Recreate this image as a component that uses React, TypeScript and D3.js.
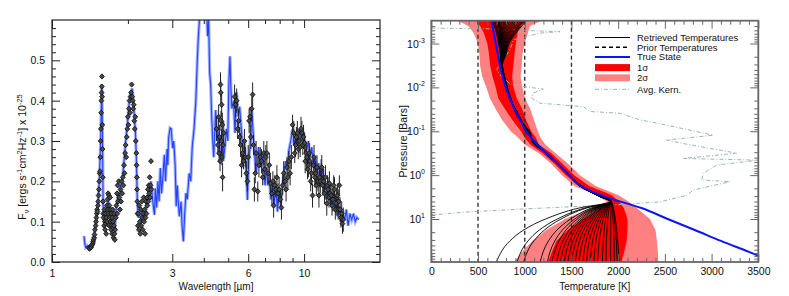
import { useEffect, useRef } from "react";
import * as d3 from "d3";

// ---------- left panel : spectrum ----------
const modelWave = [1.34, 1.35, 1.36, 1.38, 1.40, 1.42, 1.44, 1.46, 1.48, 1.50, 1.52, 1.54, 1.56, 1.575, 1.585, 1.595, 1.61, 1.63, 1.65, 1.67, 1.69, 1.71, 1.73, 1.75, 1.77, 1.79, 1.81, 1.83, 1.85, 1.87, 1.90, 1.93, 1.96, 1.99, 2.02, 2.05, 2.08, 2.11, 2.14, 2.16, 2.18, 2.20, 2.23, 2.26, 2.29, 2.32, 2.35, 2.38, 2.41, 2.44, 2.47,
  2.51, 2.55, 2.57, 2.60, 2.63, 2.66, 2.69, 2.72, 2.76, 2.79, 2.82, 2.86, 2.88, 2.90, 2.94, 2.97, 3.01, 3.04, 3.08, 3.11, 3.14, 3.16, 3.20, 3.25, 3.28, 3.32, 3.36, 3.40, 3.44, 3.50, 3.55, 3.60, 3.66, 3.72, 3.77, 3.80, 3.86, 3.92, 3.98, 4.04, 4.10, 4.14, 4.18, 4.22, 4.26, 4.30, 4.34, 4.38, 4.42, 4.46, 4.50, 4.55, 4.60, 4.67, 4.72, 4.78, 4.85, 4.92, 4.98,
  5.03, 5.08, 5.12, 5.17, 5.25, 5.32, 5.40, 5.48, 5.55, 5.65, 5.72, 5.80, 5.88, 5.96, 6.03, 6.10, 6.20, 6.28, 6.36, 6.45, 6.53, 6.60, 6.70, 6.80, 6.90, 7.00, 7.08, 7.18, 7.28, 7.38, 7.50, 7.60, 7.72, 7.84, 7.97, 8.08, 8.20, 8.33, 8.45, 8.58, 8.70, 8.85, 9.00, 9.14, 9.30, 9.45, 9.60, 9.75, 9.90,
  10.06, 10.22, 10.40, 10.55, 10.72, 10.90, 11.07, 11.25, 11.43, 11.60, 11.80, 12.00, 12.20, 12.40, 12.60, 12.80, 13.00, 13.20, 13.40, 13.60, 13.80, 14.00, 14.25, 14.50, 14.70, 14.95, 15.20, 15.45, 15.70, 15.95, 16.20, 16.45];
const modelFlux = [0.064, 0.045, 0.036, 0.040, 0.034, 0.038, 0.045, 0.058, 0.080, 0.110, 0.140, 0.200, 0.300, 0.440, 0.330, 0.140, 0.100, 0.130, 0.110, 0.160, 0.120, 0.130, 0.090, 0.100, 0.070, 0.120, 0.150, 0.170, 0.160, 0.190, 0.200, 0.250, 0.300, 0.340, 0.390, 0.420, 0.430, 0.380, 0.330, 0.260, 0.150, 0.110, 0.120, 0.100, 0.130, 0.110, 0.130, 0.150, 0.160, 0.180, 0.200,
  0.150, 0.117, 0.183, 0.135, 0.200, 0.150, 0.233, 0.170, 0.220, 0.266, 0.200, 0.280, 0.240, 0.307, 0.332, 0.330, 0.282, 0.300, 0.240, 0.138, 0.190, 0.160, 0.113, 0.150, 0.090, 0.051, 0.120, 0.171, 0.155, 0.220, 0.200, 0.286, 0.330, 0.400, 0.500, 0.550, 0.620, 0.700, 0.660, 0.720, 0.640, 0.560, 0.600, 0.470, 0.440, 0.360, 0.300, 0.260, 0.320, 0.377, 0.300, 0.330, 0.280, 0.260, 0.310, 0.250, 0.285, 0.330, 0.300,
  0.443, 0.510, 0.435, 0.380, 0.400, 0.320, 0.420, 0.360, 0.385, 0.320, 0.270, 0.300, 0.240, 0.154, 0.250, 0.285, 0.377, 0.320, 0.270, 0.220, 0.250, 0.285, 0.235, 0.270, 0.230, 0.190, 0.235, 0.190, 0.210, 0.155, 0.190, 0.140, 0.190, 0.125, 0.180, 0.146, 0.190, 0.220, 0.250, 0.235, 0.277, 0.300, 0.330, 0.290, 0.315, 0.300, 0.330, 0.310, 0.325,
  0.300, 0.278, 0.300, 0.260, 0.285, 0.235, 0.260, 0.220, 0.245, 0.190, 0.235, 0.190, 0.155, 0.200, 0.170, 0.138, 0.170, 0.130, 0.155, 0.113, 0.138, 0.100, 0.120, 0.105, 0.130, 0.090, 0.120, 0.105, 0.120, 0.100, 0.110, 0.105];

const nirWave = [1.40, 1.41, 1.42, 1.43, 1.44, 1.45, 1.455, 1.46, 1.47, 1.475, 1.48, 1.49, 1.495, 1.50, 1.505, 1.51, 1.515, 1.52, 1.525, 1.53, 1.535, 1.54, 1.545, 1.55, 1.555, 1.56, 1.563, 1.567, 1.57, 1.573, 1.576, 1.578, 1.58, 1.583, 1.586, 1.59, 1.593, 1.597,
  1.60, 1.61, 1.615, 1.62, 1.625, 1.63, 1.635, 1.64, 1.645, 1.65, 1.655, 1.66, 1.665, 1.67, 1.675, 1.68, 1.685, 1.69, 1.695, 1.70, 1.705, 1.71, 1.715, 1.72, 1.725, 1.73, 1.735, 1.74, 1.745, 1.75, 1.755, 1.76, 1.765, 1.77, 1.775, 1.78, 1.79, 1.80, 1.81, 1.815, 1.82, 1.83, 1.84, 1.85,
  1.86, 1.87, 1.88, 1.89, 1.90, 1.91, 1.92, 1.93, 1.94, 1.95, 1.96, 1.97, 1.98, 1.99, 2.00, 2.01, 2.02, 2.03, 2.04, 2.05, 2.06, 2.07, 2.08, 2.09, 2.10, 2.11, 2.12, 2.13, 2.14, 2.15, 2.16, 2.165, 2.17, 2.175, 2.18, 2.185, 2.19,
  2.20, 2.21, 2.22, 2.23, 2.24, 2.25, 2.26, 2.27, 2.28, 2.29, 2.30, 2.31, 2.32, 2.33, 2.34, 2.35, 2.36, 2.37, 2.38, 2.39, 2.40, 2.41, 2.42, 2.43, 2.44, 2.45, 2.46, 2.47, 2.48];
const nirFlux = [0.035, 0.033, 0.038, 0.036, 0.042, 0.045, 0.050, 0.055, 0.060, 0.068, 0.080, 0.090, 0.100, 0.110, 0.120, 0.130, 0.125, 0.140, 0.150, 0.165, 0.180, 0.200, 0.220, 0.225, 0.260, 0.300, 0.330, 0.370, 0.400, 0.420, 0.435, 0.460, 0.410, 0.340, 0.280, 0.210, 0.150, 0.120,
  0.11, 0.09, 0.13, 0.10, 0.08, 0.12, 0.095, 0.07, 0.11, 0.14, 0.10, 0.155, 0.13, 0.17, 0.12, 0.165, 0.09, 0.14, 0.11, 0.16, 0.13, 0.10, 0.08, 0.12, 0.09, 0.07, 0.11, 0.13, 0.10, 0.085, 0.06, 0.09, 0.12, 0.07, 0.055, 0.08, 0.11, 0.14, 0.17, 0.12, 0.19, 0.15, 0.20, 0.16,
  0.13, 0.18, 0.15, 0.20, 0.17, 0.21, 0.19, 0.24, 0.22, 0.27, 0.29, 0.26, 0.31, 0.33, 0.36, 0.34, 0.38, 0.40, 0.37, 0.41, 0.42, 0.44, 0.41, 0.40, 0.38, 0.39, 0.35, 0.33, 0.36, 0.30, 0.27, 0.24, 0.21, 0.18, 0.15, 0.12, 0.09,
  0.12, 0.08, 0.14, 0.10, 0.07, 0.13, 0.09, 0.15, 0.11, 0.08, 0.12, 0.16, 0.10, 0.13, 0.07, 0.11, 0.15, 0.12, 0.16, 0.14, 0.18, 0.15, 0.19, 0.17, 0.21, 0.16, 0.19, 0.25, 0.18];

const mirWave = [4.50, 4.55, 4.58, 4.60, 4.62, 4.64, 4.66, 4.67, 4.68, 4.70, 4.71, 4.72, 4.74, 4.75, 4.77, 4.80,
  5.30, 5.35, 5.40, 5.45, 5.50, 5.55, 5.60, 5.65, 5.70, 5.75, 5.80, 5.85, 5.90, 5.96, 6.00, 6.05, 6.10, 6.15, 6.20, 6.25, 6.30, 6.35, 6.40, 6.45, 6.55, 6.62, 6.70, 6.78, 6.85, 6.92, 6.98,
  7.05, 7.12, 7.20, 7.28, 7.35, 7.45, 7.52, 7.57, 7.65, 7.72, 7.80, 7.88, 7.96, 8.05, 8.13, 8.22, 8.30, 8.40, 8.48, 8.55, 8.62, 8.70, 8.80, 8.90, 9.00, 9.10, 9.18, 9.25, 9.32, 9.40, 9.48, 9.55, 9.65, 9.72, 9.80, 9.88, 9.95,
  10.05, 10.10, 10.18, 10.25, 10.32, 10.40, 10.48, 10.55, 10.62, 10.70, 10.80, 10.88, 10.95, 11.02, 11.10, 11.18, 11.25, 11.35, 11.45, 11.52, 11.60, 11.68, 11.75, 11.85, 11.95, 12.05, 12.15, 12.30, 12.38, 12.45, 12.55, 12.60, 12.70, 12.80, 12.90,
  13.00, 13.10, 13.20, 13.30, 13.40, 13.48, 13.55, 13.65, 13.72, 13.80, 13.90, 14.00, 14.10, 14.20, 14.30];
const mirFlux = [0.33, 0.29, 0.36, 0.27, 0.31, 0.25, 0.44, 0.42, 0.35, 0.30, 0.39, 0.26, 0.34, 0.21, 0.29, 0.32,
  0.41, 0.39, 0.40, 0.33, 0.35, 0.31, 0.29, 0.24, 0.27, 0.25, 0.30, 0.26, 0.22, 0.20, 0.26, 0.35, 0.36, 0.31, 0.38, 0.415, 0.29, 0.18, 0.22, 0.27, 0.175, 0.24, 0.26, 0.25, 0.21, 0.27, 0.23,
  0.26, 0.27, 0.22, 0.24, 0.195, 0.17, 0.20, 0.14, 0.19, 0.18, 0.21, 0.17, 0.18, 0.155, 0.135, 0.19, 0.22, 0.20, 0.18, 0.235, 0.21, 0.25, 0.22, 0.26, 0.34, 0.32, 0.27, 0.29, 0.31, 0.32, 0.28, 0.30, 0.285, 0.33, 0.32, 0.29, 0.31,
  0.295, 0.25, 0.27, 0.26, 0.23, 0.24, 0.27, 0.25, 0.20, 0.22, 0.165, 0.24, 0.26, 0.21, 0.22, 0.19, 0.235, 0.20, 0.165, 0.21, 0.20, 0.23, 0.235, 0.19, 0.20, 0.17, 0.21, 0.145, 0.19, 0.18, 0.16, 0.195, 0.17, 0.165, 0.14,
  0.155, 0.19, 0.18, 0.13, 0.145, 0.16, 0.165, 0.13, 0.15, 0.19, 0.13, 0.11, 0.12, 0.095, 0.105];
const mirErr = [0.03, 0.025, 0.03, 0.02, 0.03, 0.025, 0.03, 0.03, 0.025, 0.03, 0.03, 0.02, 0.03, 0.035, 0.025, 0.03,
  0.03, 0.03, 0.03, 0.025, 0.03, 0.025, 0.03, 0.03, 0.025, 0.02, 0.03, 0.025, 0.03, 0.025, 0.03, 0.03, 0.025, 0.03, 0.03, 0.03, 0.025, 0.03, 0.025, 0.03, 0.025, 0.03, 0.025, 0.03, 0.02, 0.03, 0.025,
  0.03, 0.03, 0.025, 0.03, 0.025, 0.03, 0.025, 0.03, 0.025, 0.02, 0.03, 0.025, 0.03, 0.025, 0.03, 0.025, 0.03, 0.025, 0.03, 0.025, 0.03, 0.025, 0.03, 0.03, 0.025, 0.03, 0.025, 0.03, 0.025, 0.03, 0.025, 0.03, 0.025, 0.03, 0.03, 0.025, 0.03,
  0.025, 0.03, 0.025, 0.03, 0.025, 0.03, 0.025, 0.03, 0.025, 0.03, 0.03, 0.025, 0.03, 0.025, 0.03, 0.025, 0.03, 0.025, 0.03, 0.025, 0.03, 0.025, 0.03, 0.025, 0.03, 0.025, 0.03, 0.03, 0.025, 0.03, 0.025, 0.03, 0.025, 0.03, 0.025,
  0.03, 0.025, 0.03, 0.025, 0.03, 0.025, 0.03, 0.025, 0.03, 0.025, 0.03, 0.025, 0.03, 0.025, 0.03];

const waveMajor = [1, 3, 6, 10];
const waveMinor = [2, 4, 5, 7, 8, 9];
const fluxMajor = [0, 0.1, 0.2, 0.3, 0.4, 0.5];

// ---------- right panel : temperature profiles (log10 pressure in bars) ----------
const truthLogP = [-3.5, -3.25, -3.0, -2.75, -2.5, -2.25, -2.0, -1.75, -1.5, -1.25, -1.0, -0.75, -0.5, -0.25, 0, 0.25, 0.5, 0.75, 1.0, 1.25, 1.5, 1.75, 2.0];
const truthT = [646, 668, 690, 712, 736, 763, 797, 842, 893, 955, 1015, 1110, 1233, 1360, 1480, 1600, 1870, 2250, 2530, 2820, 3100, 3400, 3690];

const bandLogP = [-3.52, -3.4, -3.25, -3.0, -2.75, -2.5, -2.25, -2.0, -1.75, -1.5, -1.25, -1.0, -0.85, -0.7, -0.5, -0.25, 0, 0.25, 0.45, 0.6, 0.75, 1.0, 1.25, 1.5, 1.75, 1.98];
const lo2 = [285, 395, 450, 500, 515, 522, 545, 590, 628, 690, 760, 850, 930, 1000, 1150, 1290, 1400, 1530, 1760, 1880, 1720, 1430, 1230, 1080, 970, 890];
const lo1 = [486, 521, 560, 600, 618, 630, 655, 690, 717, 790, 870, 960, 1000, 1060, 1190, 1325, 1440, 1580, 1810, 1900, 1820, 1620, 1460, 1340, 1290, 1250];
const hi1 = [1003, 949, 925, 905, 890, 878, 865, 880, 914, 975, 1015, 1070, 1120, 1150, 1285, 1410, 1530, 1690, 1930, 2010, 2060, 2100, 2100, 2090, 2065, 2035];
const hi2 = [1180, 1056, 1035, 1000, 975, 968, 955, 975, 1003, 1060, 1100, 1140, 1170, 1220, 1330, 1470, 1590, 1760, 2000, 2110, 2200, 2340, 2400, 2415, 2425, 2430];

// retrieved profiles: top tail + one of three middle runs + bottom tail
const topLogP = [-3.52, -3.3, -3.0, -2.75];
const midLogP = [-2.5, -2.25, -2.0, -1.75, -1.5, -1.25, -1.0, -0.75, -0.5, -0.25, 0, 0.25, 0.5, 0.6];
const botLogP = [0.75, 1.0, 1.25, 1.5, 2.0];
const midRuns = [
  [750, 775, 805, 845, 895, 958, 1030, 1100, 1225, 1350, 1470, 1590, 1830, 1925],
  [760, 782, 812, 850, 890, 950, 1050, 1085, 1240, 1365, 1485, 1610, 1845, 1925],
  [742, 770, 800, 838, 900, 965, 1010, 1120, 1230, 1355, 1475, 1600, 1820, 1925],
];
const topTails = [
  [650, 690, 720, 740], [665, 700, 725, 742], [680, 705, 730, 745], [700, 715, 735, 748],
  [715, 725, 738, 750], [730, 735, 742, 752], [745, 742, 745, 755], [760, 750, 748, 757],
  [775, 760, 752, 760], [790, 768, 756, 762], [805, 778, 760, 765], [820, 788, 765, 768],
  [840, 800, 770, 770], [860, 812, 775, 772], [880, 825, 780, 775], [900, 840, 786, 778],
  [920, 852, 792, 780], [940, 866, 798, 783], [960, 880, 805, 786], [975, 895, 812, 790],
  [990, 905, 818, 793], [1005, 918, 825, 796], [1020, 930, 832, 800], [700, 740, 750, 755],
];
const botTails = [
  [1580, 1223, 989, 841, 693], [1642, 1349, 1157, 1035, 914], [1662, 1389, 1211, 1098, 985],
  [1712, 1491, 1346, 1254, 1163], [1733, 1535, 1404, 1322, 1240], [1747, 1563, 1442, 1366, 1290],
  [1761, 1592, 1480, 1410, 1340], [1772, 1614, 1511, 1445, 1380], [1784, 1637, 1541, 1481, 1420],
  [1795, 1660, 1572, 1516, 1460], [1806, 1683, 1602, 1551, 1500], [1817, 1706, 1632, 1586, 1540],
  [1828, 1728, 1663, 1621, 1580], [1840, 1751, 1693, 1657, 1620], [1851, 1774, 1724, 1692, 1660],
  [1862, 1797, 1754, 1727, 1700], [1873, 1820, 1784, 1762, 1740], [1884, 1842, 1815, 1797, 1780],
  [1893, 1866, 1850, 1841, 1830], [1905, 1889, 1880, 1874, 1870], [1924, 1922, 1921, 1920, 1920],
  [1935, 1945, 1952, 1957, 1960], [1945, 1960, 1972, 1980, 1990], [1950, 1970, 1985, 1995, 2010],
];

const priorT = [500, 1000, 1500];

const kernLogP = [-3.35, -3.33, -3.29, -3.27, -3.24, -3.08, -2.85, -2.55, -2.40, -2.24, -2.09, -2.02, -1.96, -1.87, -1.75, -1.64, -1.56, -1.45, -1.41, -1.26, -1.14, -0.91, -0.80, -0.72, -0.50, -0.38, -0.34, -0.23, -0.04, 0.11, 0.15, 0.34, 0.46, 0.61, 0.68, 0.76, 0.84, 0.91];
const kernT = [4, 842, 1089, 1377, 1163, 878, 842, 735, 700, 753, 842, 985, 1199, 1092, 1075, 1163, 1627, 1699, 2020, 2234, 2519, 3018, 2519, 2697, 3269, 2697, 3500, 3055, 2911, 2894, 3197, 2804, 2733, 2448, 1948, 1092, 379, 4];

const tempMajor = [0, 500, 1000, 1500, 2000, 2500, 3000, 3500];
const presDecades = [-3, -2, -1, 0, 1];

const FONT = "'Liberation Sans', Arial, Helvetica, sans-serif";

const App = () => {
  const svgRef = useRef<SVGSVGElement>(null);

  useEffect(() => {
    const svg = d3.select(svgRef.current);
    svg.selectAll("*").remove();

    const styleAxis = (g, color, labels) => {
      g.select(".domain").remove();
      g.selectAll("line").attr("stroke", color).attr("stroke-width", 1);
      g.selectAll("text").attr("font-size", 10.5).attr("font-family", FONT).attr("fill", "#111");
      if (!labels) g.selectAll("text").remove();
    };

    // ===== LEFT PANEL =====
    const L = { x0: 52, x1: 380, y0: 20, y1: 262 };
    const xL = d3.scaleLog().domain([1, 20]).range([L.x0, L.x1]);
    const yL = d3.scaleLinear().domain([0, 0.6]).range([L.y1, L.y0]);

    svg.append("clipPath").attr("id", "clipL").append("rect")
      .attr("x", L.x0).attr("y", L.y0).attr("width", L.x1 - L.x0).attr("height", L.y1 - L.y0);

    const gl = svg.append("g").attr("clip-path", "url(#clipL)");
    const modelPts = modelWave.map((w, i) => [xL(w), yL(modelFlux[i])]);
    const lineL = d3.line();
    gl.append("path").attr("d", lineL(modelPts)).attr("fill", "none")
      .attr("stroke", "#8e9dff").attr("stroke-width", 3.2).attr("opacity", 0.8);
    gl.append("path").attr("d", lineL(modelPts)).attr("fill", "none")
      .attr("stroke", "#2343ff").attr("stroke-width", 1.1);

    // error bars
    gl.selectAll(".err").data(mirWave).enter().append("line")
      .attr("x1", (d) => xL(d)).attr("x2", (d) => xL(d))
      .attr("y1", (d, i) => yL(mirFlux[i] - mirErr[i])).attr("y2", (d, i) => yL(mirFlux[i] + mirErr[i]))
      .attr("stroke", "#222").attr("stroke-width", 1);

    const diamond = "M0,-2.6L2.4,0L0,2.6L-2.4,0Z";
    const pts = nirWave.map((w, i) => [w, nirFlux[i]]).concat(mirWave.map((w, i) => [w, mirFlux[i]]));
    gl.selectAll(".pt").data(pts).enter().append("path")
      .attr("d", diamond)
      .attr("transform", (d) => `translate(${xL(d[0])},${yL(d[1])})`)
      .attr("fill", "#4a4a4a").attr("stroke", "#111").attr("stroke-width", 0.9);

    // axes (ticks inward on all sides)
    const axL = svg.append("g");
    axL.append("g").attr("transform", `translate(0,${L.y1})`)
      .call(d3.axisBottom(xL).tickValues(waveMajor).tickFormat(d3.format("d")).tickSize(-8).tickPadding(8))
      .call((g) => styleAxis(g, "#222", true));
    axL.append("g").attr("transform", `translate(0,${L.y1})`)
      .call(d3.axisBottom(xL).tickValues(waveMinor).tickSize(-4))
      .call((g) => styleAxis(g, "#222", false));
    axL.append("g").attr("transform", `translate(0,${L.y0})`)
      .call(d3.axisTop(xL).tickValues(waveMajor).tickSize(-8))
      .call((g) => styleAxis(g, "#222", false));
    axL.append("g").attr("transform", `translate(0,${L.y0})`)
      .call(d3.axisTop(xL).tickValues(waveMinor).tickSize(-4))
      .call((g) => styleAxis(g, "#222", false));
    const fluxMinor = d3.range(0.02, 0.6, 0.02).filter((v) => Math.abs(v * 10 - Math.round(v * 10)) > 0.01);
    axL.append("g").attr("transform", `translate(${L.x0},0)`)
      .call(d3.axisLeft(yL).tickValues(fluxMajor).tickFormat(d3.format(".1f")).tickSize(-8).tickPadding(7))
      .call((g) => styleAxis(g, "#222", true));
    axL.append("g").attr("transform", `translate(${L.x0},0)`)
      .call(d3.axisLeft(yL).tickValues(fluxMinor).tickSize(-4))
      .call((g) => styleAxis(g, "#222", false));
    axL.append("g").attr("transform", `translate(${L.x1},0)`)
      .call(d3.axisRight(yL).tickValues(fluxMajor).tickSize(-8))
      .call((g) => styleAxis(g, "#222", false));
    axL.append("g").attr("transform", `translate(${L.x1},0)`)
      .call(d3.axisRight(yL).tickValues(fluxMinor).tickSize(-4))
      .call((g) => styleAxis(g, "#222", false));
    svg.append("rect").attr("x", L.x0).attr("y", L.y0).attr("width", L.x1 - L.x0).attr("height", L.y1 - L.y0)
      .attr("fill", "none").attr("stroke", "#222").attr("stroke-width", 1.2);

    svg.append("text").attr("x", (L.x0 + L.x1) / 2).attr("y", 289.5).attr("text-anchor", "middle")
      .attr("font-family", FONT).attr("font-size", 10).attr("fill", "#111").text("Wavelength [\u00b5m]");

    const yl = svg.append("text").attr("transform", "translate(26,157) rotate(-90)").attr("text-anchor", "middle")
      .attr("font-family", FONT).attr("font-size", 10.5).attr("fill", "#111");
    yl.append("tspan").text("F");
    yl.append("tspan").attr("dy", 3).attr("font-size", 7.5).text("\u03bd");
    yl.append("tspan").attr("dy", -3).text(" [ergs s");
    yl.append("tspan").attr("dy", -4).attr("font-size", 7.5).text("-1");
    yl.append("tspan").attr("dy", 4).text("cm");
    yl.append("tspan").attr("dy", -4).attr("font-size", 7.5).text("2");
    yl.append("tspan").attr("dy", 4).text("Hz");
    yl.append("tspan").attr("dy", -4).attr("font-size", 7.5).text("-1");
    yl.append("tspan").attr("dy", 4).text("] x 10");
    yl.append("tspan").attr("dy", -4).attr("font-size", 7.5).text("-25");

    // ===== RIGHT PANEL =====
    const R = { x0: 431.3, x1: 758.3, y0: 20.7, y1: 262 };
    const xR = d3.scaleLinear().domain([0, 3500]).range([R.x0, R.x1]);
    const yR = d3.scaleLog().domain([Math.pow(10, -3.52), Math.pow(10, 1.98)]).range([R.y0, R.y1]);
    const py = (l) => yR(Math.pow(10, l));

    svg.append("clipPath").attr("id", "clipR").append("rect")
      .attr("x", R.x0).attr("y", R.y0).attr("width", R.x1 - R.x0).attr("height", R.y1 - R.y0);
    const gr = svg.append("g").attr("clip-path", "url(#clipR)");

    const band = (lo, hi) => d3.area().x0((d, i) => xR(lo[i])).x1((d, i) => xR(hi[i])).y((d) => py(d))(bandLogP);
    gr.append("path").attr("d", band(lo2, hi2)).attr("fill", "#ff8080");
    gr.append("path").attr("d", band(lo1, hi1)).attr("fill", "#ff0000");

    gr.selectAll(".prior").data(priorT).enter().append("line")
      .attr("x1", (d) => xR(d)).attr("x2", (d) => xR(d)).attr("y1", R.y0).attr("y2", R.y1)
      .attr("stroke", "#333").attr("stroke-width", 1.4).attr("stroke-dasharray", "4,3");

    const kernLine = d3.line().x((d, i) => xR(kernT[i])).y((d) => py(d));
    gr.append("path").attr("d", kernLine(kernLogP)).attr("fill", "none")
      .attr("stroke", "#9fb2b2").attr("stroke-width", 1).attr("stroke-dasharray", "4,2,1,2");

    const profLine = d3.line().x((d) => xR(d[0])).y((d) => py(d[1])).curve(d3.curveMonotoneY);
    topTails.forEach((top, k) => {
      const mid = midRuns[k % 3];
      const bot = botTails[k];
      const pts2 = top.map((t, i) => [t, topLogP[i]])
        .concat(mid.map((t, i) => [t, midLogP[i]]))
        .concat(bot.map((t, i) => [t, botLogP[i]]));
      gr.append("path").attr("d", profLine(pts2)).attr("fill", "none")
        .attr("stroke", "#000").attr("stroke-width", 0.9);
    });

    const truthLine = d3.line().x((d, i) => xR(truthT[i])).y((d) => py(d)).curve(d3.curveMonotoneY);
    gr.append("path").attr("d", truthLine(truthLogP)).attr("fill", "none")
      .attr("stroke", "#0a14ff").attr("stroke-width", 2);

    // axes
    const axR = svg.append("g");
    const tempMinor = d3.range(100, 3500, 100).filter((v) => v % 500 !== 0);
    const presMinor = [];
    [-4, -3, -2, -1, 0, 1].forEach((e) => d3.range(2, 10).forEach((k) => {
      const v = k * Math.pow(10, e);
      if (v > Math.pow(10, -3.52) && v < Math.pow(10, 1.98)) presMinor.push(v);
    }));
    const presMajor = presDecades.map((e) => Math.pow(10, e));
    const gray = "#666";
    axR.append("g").attr("transform", `translate(0,${R.y1})`)
      .call(d3.axisBottom(xR).tickValues(tempMajor).tickFormat(d3.format("d")).tickSize(-8).tickPadding(6))
      .call((g) => styleAxis(g, gray, true));
    axR.append("g").attr("transform", `translate(0,${R.y1})`)
      .call(d3.axisBottom(xR).tickValues(tempMinor).tickSize(-4))
      .call((g) => styleAxis(g, gray, false));
    axR.append("g").attr("transform", `translate(0,${R.y0})`)
      .call(d3.axisTop(xR).tickValues(tempMajor).tickSize(-8))
      .call((g) => styleAxis(g, gray, false));
    axR.append("g").attr("transform", `translate(0,${R.y0})`)
      .call(d3.axisTop(xR).tickValues(tempMinor).tickSize(-4))
      .call((g) => styleAxis(g, gray, false));
    axR.append("g").attr("transform", `translate(${R.x0},0)`)
      .call(d3.axisLeft(yR).tickValues(presMajor).tickSize(-8))
      .call((g) => styleAxis(g, gray, false));
    axR.append("g").attr("transform", `translate(${R.x0},0)`)
      .call(d3.axisLeft(yR).tickValues(presMinor).tickSize(-4))
      .call((g) => styleAxis(g, gray, false));
    axR.append("g").attr("transform", `translate(${R.x1},0)`)
      .call(d3.axisRight(yR).tickValues(presMajor).tickSize(-8))
      .call((g) => styleAxis(g, gray, false));
    axR.append("g").attr("transform", `translate(${R.x1},0)`)
      .call(d3.axisRight(yR).tickValues(presMinor).tickSize(-4))
      .call((g) => styleAxis(g, gray, false));
    svg.append("rect").attr("x", R.x0).attr("y", R.y0).attr("width", R.x1 - R.x0).attr("height", R.y1 - R.y0)
      .attr("fill", "none").attr("stroke", gray).attr("stroke-width", 1.8);

    presDecades.forEach((e) => {
      const t = svg.append("text").attr("x", 425).attr("y", yR(Math.pow(10, e)) + 4).attr("text-anchor", "end")
        .attr("font-family", FONT).attr("font-size", 10.5).attr("fill", "#111");
      t.append("tspan").text("10");
      t.append("tspan").attr("dy", -5).attr("font-size", 7).text(String(e));
    });

    svg.append("text").attr("x", (R.x0 + R.x1) / 2).attr("y", 289.5).attr("text-anchor", "middle")
      .attr("font-family", FONT).attr("font-size", 10).attr("fill", "#111").text("Temperature [K]");
    svg.append("text").attr("transform", `translate(407,${(R.y0 + R.y1) / 2}) rotate(-90)`).attr("text-anchor", "middle")
      .attr("font-family", FONT).attr("font-size", 10.5).attr("fill", "#111").text("Pressure [Bars]");

    // legend
    const lg = svg.append("g").attr("font-family", FONT).attr("font-size", 9.5).attr("fill", "#111");
    const lx0 = 595, lx1 = 630, tx = 637;
    const rows = [
      { y: 37.5, label: "Retrieved Temperatures", kind: "line", color: "#000", dash: null, w: 1 },
      { y: 47.3, label: "Prior Temperatures", kind: "line", color: "#000", dash: "4,3", w: 1.4 },
      { y: 56.9, label: "True State", kind: "line", color: "#0a14ff", dash: null, w: 2 },
      { y: 67.6, label: "1\u03c3", kind: "rect", color: "#ff0000" },
      { y: 77.8, label: "2\u03c3", kind: "rect", color: "#ff8080" },
      { y: 89.3, label: "Avg. Kern.", kind: "line", color: "#9fb2b2", dash: "4,2,1,2", w: 1 },
    ];
    rows.forEach((r) => {
      if (r.kind === "line") {
        lg.append("line").attr("x1", lx0).attr("x2", lx1).attr("y1", r.y).attr("y2", r.y)
          .attr("stroke", r.color).attr("stroke-width", r.w).attr("stroke-dasharray", r.dash);
      } else {
        lg.append("rect").attr("x", lx0).attr("y", r.y - 3.5).attr("width", lx1 - lx0).attr("height", 7).attr("fill", r.color);
      }
      lg.append("text").attr("x", tx).attr("y", r.y + 3.3).attr("textLength", r.label.length > 12 ? null : null).text(r.label);
    });
  }, []);

  return <svg ref={svgRef} width={789} height={296} style={{ position: "absolute", left: 0, top: 0, background: "#fff" }} />;
};

export default App;
